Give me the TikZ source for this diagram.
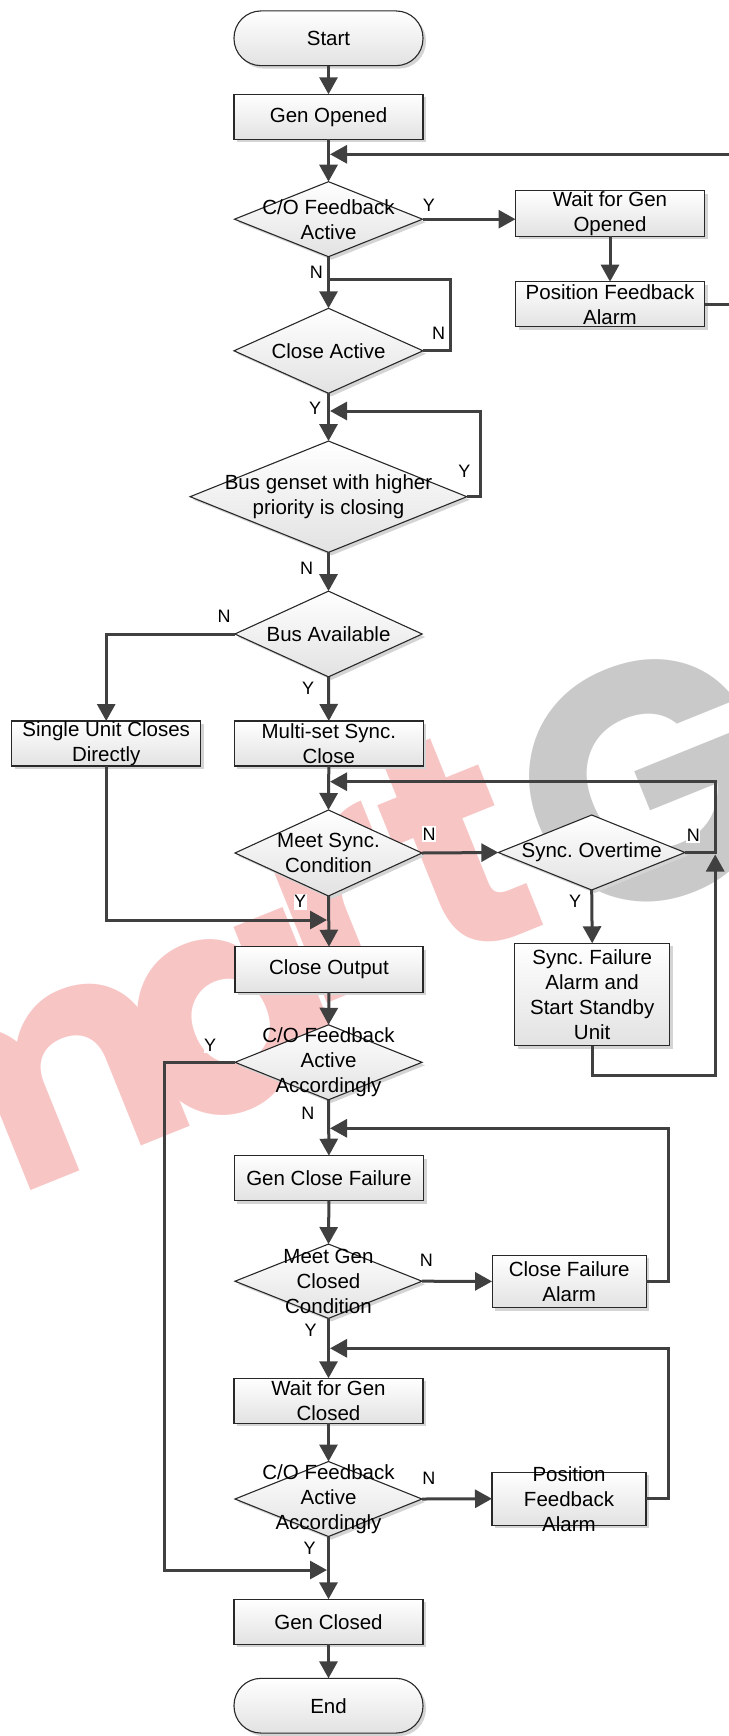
\documentclass[tikz,border=0pt]{standalone}
\usepackage{fontspec}
\setmainfont{Liberation Sans}
\newfontfamily\wmfont{Poppins}
\usetikzlibrary{shapes.geometric,shadows,arrows.meta}
\definecolor{lc}{RGB}{64,64,64}
\definecolor{bc}{RGB}{40,40,40}
\definecolor{wmred}{RGB}{248,197,197}
\definecolor{wmgray}{RGB}{201,201,201}
\definecolor{fillb}{RGB}{226,226,226}
\definecolor{shad}{RGB}{212,212,212}
\frenchspacing
\tikzset{
 shp/.style={draw=bc, line width=1.1pt, top color=white, bottom color=fillb, inner sep=0pt, outer sep=0pt,
   drop shadow={shadow xshift=3pt, shadow yshift=-3pt, fill=shad, opacity=1}},
 box/.style={shp, rectangle},
 term/.style={shp, rectangle, rounded corners=27pt},
 dec/.style={shp, diamond},
 tx/.style={font=\fontsize{20.5}{25}\selectfont, align=center, inner sep=0pt, text=black},
 lab/.style={font=\fontsize{18}{21}\selectfont, fill=white, inner xsep=0.5pt, inner ysep=2pt, text=black},
 conn/.style={draw=lc, line width=3pt, line join=miter, -{Triangle[length=17pt,width=18pt]}},
 plain/.style={draw=lc, line width=3pt, line join=miter},
 wm/.style={rotate=22, inner sep=0pt, font=\wmfont\bfseries\fontsize{310}{310}\selectfont},
}
\begin{document}
\begin{tikzpicture}[x=1pt,y=-1pt]
\useasboundingbox (0,0) rectangle (728,1736);
% watermark
\node[wm, text=wmred] (wm1) at (22,1100) {m};
\node[wm, text=wmred] (wm2) at (236,1020) {a};
\node[wm, text=wmred] (wm3) at (338,905) {r};
\node[wm, text=wmred] (wm4) at (455,845) {t};
\node[wm, text=wmgray, font=\wmfont\bfseries\fontsize{335}{335}\selectfont] (wm5) at (648,782) {G};
% nodes
\node[term, minimum width=189pt, minimum height=54.7pt, label={[tx]center:Start}] (start) at (328.5,38.3) {};
\node[box, minimum width=189pt, minimum height=45pt, label={[tx]center:Gen Opened}] (genop) at (328.5,116.8) {};
\node[dec, minimum width=188pt, minimum height=75pt, label={[tx]center:{C/O Feedback\\Active}}] (d1) at (328.5,219.2) {};
\node[box, minimum width=189pt, minimum height=45.6pt, label={[tx]center:{Wait for Gen\\Opened}}] (wait1) at (610,213.5) {};
\node[box, minimum width=189pt, minimum height=45pt, label={[tx]center:{Position Feedback\\Alarm}}] (pos1) at (610,304.2) {};
\node[dec, minimum width=189pt, minimum height=85pt, label={[tx]center:Close Active}] (d2) at (328.5,350.8) {};
\node[dec, minimum width=276.7pt, minimum height=111.3pt, label={[tx]center:{Bus genset with higher\\priority is closing}}] (d3) at (328.5,496.7) {};
\node[dec, minimum width=187.3pt, minimum height=85.7pt, label={[tx]center:Bus Available}] (d4) at (328.5,634) {};
\node[box, minimum width=189pt, minimum height=45pt, label={[tx]center:{Single Unit Closes\\Directly}}] (single) at (106.2,743.5) {};
\node[box, minimum width=189pt, minimum height=45pt, label={[tx]center:{Multi-set Sync.\\Close}}] (multi) at (328.8,743.5) {};
\node[dec, minimum width=187pt, minimum height=86pt, label={[tx]center:{Meet Sync.\\Condition}}] (d5) at (328.5,853) {};
\node[dec, minimum width=186.7pt, minimum height=75pt, label={[tx]center:Sync. Overtime}] (d6) at (591.7,852.5) {};
\node[box, minimum width=155pt, minimum height=102.4pt, label={[tx]center:{Sync. Failure\\Alarm and\\Start Standby\\Unit}}] (sfail) at (592.2,994.5) {};
\node[box, minimum width=188pt, minimum height=45.6pt, label={[tx]center:Close Output}] (cout) at (329,969.5) {};
\node[dec, minimum width=187pt, minimum height=75pt, label={[tx]center:{C/O Feedback\\Active\\Accordingly}}] (d7) at (328.5,1062.3) {};
\node[box, minimum width=189.4pt, minimum height=45pt, label={[tx]center:Gen Close Failure}] (gcf) at (328.9,1178.2) {};
\node[dec, minimum width=187pt, minimum height=74.3pt, label={[tx]center:{Meet Gen\\Closed\\Condition}}] (d8) at (328.5,1281.2) {};
\node[box, minimum width=154.3pt, minimum height=52.7pt, label={[tx]center:{Close Failure\\Alarm}}] (cfa) at (569.2,1281.4) {};
\node[box, minimum width=189pt, minimum height=45pt, label={[tx]center:{Wait for Gen\\Closed}}] (wgc) at (328.5,1400.8) {};
\node[dec, minimum width=187pt, minimum height=75pt, label={[tx]center:{C/O Feedback\\Active\\Accordingly}}] (d9) at (328.5,1499) {};
\node[box, minimum width=154pt, minimum height=52.7pt, label={[tx]center:{Position\\Feedback\\Alarm}}] (pfa) at (569,1498.7) {};
\node[box, minimum width=189pt, minimum height=45pt, label={[tx]center:Gen Closed}] (gcl) at (328.5,1621.8) {};
\node[term, minimum width=189pt, minimum height=54.7pt, label={[tx]center:End}] (end) at (328.5,1705.7) {};
% helper coordinates
\coordinate (c1a) at (732,304.2); \coordinate (c1b) at (732,154.3); \coordinate (c1m) at (330,154.3);
\coordinate (c2a) at (450.9,350.8); \coordinate (c2b) at (450.9,279.3); \coordinate (c2m) at (328.5,279.3);
\coordinate (c3a) at (480,496.7); \coordinate (c3b) at (480,411); \coordinate (c3m) at (330,411);
\coordinate (c6a) at (715.2,852.5); \coordinate (c6b) at (715.2,781.7); \coordinate (c6m) at (330,781.7);
\coordinate (csa) at (592.2,1075); \coordinate (csb) at (715.2,1075); \coordinate (csm) at (715.2,854.5);
\coordinate (cua) at (106.2,920); \coordinate (cum) at (327,920);
\coordinate (c7a) at (164,1062.3); \coordinate (c7b) at (164,1570); \coordinate (c7m) at (327,1570);
\coordinate (c8a) at (668.4,1281.4); \coordinate (c8b) at (668.4,1128.3); \coordinate (c8m) at (330,1128.3);
\coordinate (c9a) at (668.4,1498.7); \coordinate (c9b) at (668.4,1348.3); \coordinate (c9m) at (330,1348.3);
% connectors
\draw[conn] (start.south) -- (genop.north);
\draw[conn] (genop.south) -- (d1.north);
\draw[conn] (pos1.east) -- (c1a) -- (c1b) -- (c1m);
\draw[conn] (d1.east) -- (d1.east -| wait1.west);
\draw[conn] (wait1.south) -- (pos1.north);
\draw[conn] (d1.south) -- (d2.north);
\draw[plain] (d2.east) -- (c2a) -- (c2b) -- (c2m);
\draw[conn] (d2.south) -- (d3.north);
\draw[conn] (d3.east) -- (c3a) -- (c3b) -- (c3m);
\draw[conn] (d3.south) -- (d4.north);
\draw[conn] (d4.west) -| (single.north);
\draw[conn] (d4.south) -- (multi.north);
\draw[conn] (multi.south) -- (d5.north);
\draw[conn] (d6.east) -- (c6a) -- (c6b) -- (c6m);
\draw[conn] (d5.east) -- (d6.west);
\draw[conn] (d6.south) -- (sfail.north);
\draw[conn] (sfail.south) -- (csa) -- (csb) -- (csm);
\draw[conn] (single.south) -- (cua) -- (cum);
\draw[conn] (d5.south) -- (cout.north);
\draw[conn] (cout.south) -- (d7.north);
\draw[conn] (d7.west) -- (c7a) -- (c7b) -- (c7m);
\draw[conn] (d7.south) -- (gcf.north);
\draw[conn] (cfa.east) -- (c8a) -- (c8b) -- (c8m);
\draw[conn] (gcf.south) -- (d8.north);
\draw[conn] (d8.east) -- (cfa.west);
\draw[conn] (d8.south) -- (wgc.north);
\draw[conn] (pfa.east) -- (c9a) -- (c9b) -- (c9m);
\draw[conn] (wgc.south) -- (d9.north);
\draw[conn] (d9.east) -- (pfa.west);
\draw[conn] (d9.south) -- (gcl.north);
\draw[conn] (gcl.south) -- (end.north);
% labels
\node[lab] (ly1) at (428.9,205) {Y};
\node[lab] (ln1) at (316.3,272) {N};
\node[lab] (ln2) at (438.6,333) {N};
\node[lab] (ly2) at (315,408.3) {Y};
\node[lab] (ly3) at (464.3,471) {Y};
\node[lab] (ln3) at (306.7,568) {N};
\node[lab] (ln4) at (224,616.7) {N};
\node[lab] (ly4) at (308,688) {Y};
\node[lab] (ln5) at (429,834) {N};
\node[lab] (ln6) at (693.3,835) {N};
\node[lab] (ly5) at (300,901.7) {Y};
\node[lab] (ly6) at (575,901.7) {Y};
\node[lab] (ly7) at (210,1045) {Y};
\node[lab] (ln7) at (307.8,1113.3) {N};
\node[lab] (ln8) at (426.4,1260) {N};
\node[lab] (ly8) at (310.6,1330.7) {Y};
\node[lab] (ln9) at (428.8,1478.3) {N};
\node[lab] (ly9) at (309.6,1548.3) {Y};
\end{tikzpicture}
\end{document}
